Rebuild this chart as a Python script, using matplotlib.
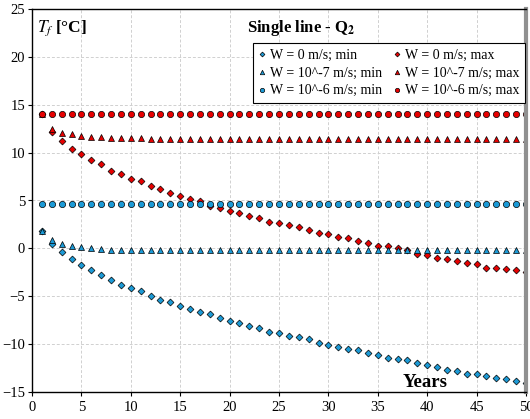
import matplotlib.pyplot as plt
import numpy as np

years = np.arange(1, 51)

# W = 0 m/s
w0_min = [1.8, 0.5, -0.4, -1.1, -1.7, -2.3, -2.8, -3.3, -3.8, -4.1,
          -4.5, -5.0, -5.4, -5.6, -6.0, -6.3, -6.6, -6.9, -7.3, -7.6,
          -7.8, -8.1, -8.35, -8.7, -8.85, -9.1, -9.3, -9.5, -9.9, -10.1,
          -10.3, -10.5, -10.6, -10.9, -11.1, -11.4, -11.6, -11.7, -12.0, -12.2,
          -12.4, -12.7, -12.8, -13.1, -13.1, -13.3, -13.5, -13.65, -13.85, -14.1]
w0_max = [14.0, 12.2, 11.25, 10.35, 9.85, 9.2, 8.8, 8.1, 7.8, 7.25,
          7.0, 6.5, 6.2, 5.8, 5.5, 5.15, 4.9, 4.45, 4.2, 3.95,
          3.65, 3.4, 3.15, 2.8, 2.6, 2.4, 2.2, 1.95, 1.6, 1.5,
          1.2, 1.05, 0.8, 0.6, 0.25, 0.2, 0.0, -0.2, -0.55, -0.7,
          -1.0, -1.15, -1.3, -1.5, -1.6, -2.0, -2.0, -2.2, -2.3, -2.5]

# W = 10^-7 m/s
w7_min = [1.8, 0.9, 0.5, 0.3, 0.1, 0.0, -0.1, -0.15, -0.15, -0.15,
          -0.15, -0.2, -0.2, -0.2, -0.2, -0.2, -0.2, -0.2, -0.2, -0.2,
          -0.2, -0.2, -0.2, -0.2, -0.2, -0.2, -0.2, -0.2, -0.2, -0.2,
          -0.2, -0.2, -0.2, -0.2, -0.2, -0.2, -0.2, -0.2, -0.2, -0.2,
          -0.2, -0.2, -0.2, -0.2, -0.2, -0.2, -0.2, -0.2, -0.2, -0.2]
w7_max = [14.0, 12.45, 12.1, 11.9, 11.75, 11.6, 11.6, 11.5, 11.5, 11.5,
          11.5, 11.45, 11.45, 11.4, 11.45, 11.45, 11.45, 11.45, 11.4, 11.45,
          11.45, 11.45, 11.45, 11.45, 11.45, 11.45, 11.45, 11.45, 11.45, 11.45,
          11.45, 11.45, 11.45, 11.45, 11.45, 11.45, 11.45, 11.45, 11.45, 11.45,
          11.45, 11.45, 11.45, 11.45, 11.45, 11.45, 11.45, 11.45, 11.45, 11.45]

# W = 10^-6 m/s
w6_min = [4.65] * 50
w6_max = [14.0] * 50

blue = '#1c9ad6'
red = '#e60000'

plt.rcParams['font.family'] = ['Liberation Serif', 'DejaVu Serif']
plt.rcParams['mathtext.fontset'] = 'stix'

fig = plt.figure(figsize=(5.3, 4.19), dpi=100)
ax = fig.add_axes([32 / 530, 27 / 419, 494 / 530, 383 / 419])

kw = dict(linestyle='none', markeredgecolor='black', markeredgewidth=0.5)
h0 = ax.plot(years, w0_min, marker='D', markersize=3.5, color=blue, label='W = 0 m/s; min', **kw)[0]
h1 = ax.plot(years, w0_max, marker='D', markersize=3.5, color=red, label='W = 0 m/s; max', **kw)[0]
h2 = ax.plot(years, w7_min, marker='^', markersize=4.6, color=blue, label='W = 10^-7 m/s; min', **kw)[0]
h3 = ax.plot(years, w7_max, marker='^', markersize=4.6, color=red, label='W = 10^-7 m/s; max', **kw)[0]
h4 = ax.plot(years, w6_min, marker='o', markersize=4.5, color=blue, label='W = 10^-6 m/s; min', **kw)[0]
h5 = ax.plot(years, w6_max, marker='o', markersize=4.5, color=red, label='W = 10^-6 m/s; max', **kw)[0]

ax.set_xlim(0, 50)
ax.set_ylim(-15, 25)
ax.set_xticks(np.arange(0, 51, 5))
ax.set_yticks(np.arange(-15, 26, 5))
ax.tick_params(labelsize=10.5, length=3, width=0.8, colors='black')
ax.tick_params(axis='y', pad=2)
ax.grid(True, color='#d0d0d0', linestyle=(0, (3, 2)), linewidth=0.7)
ax.set_axisbelow(True)

for s in ['left', 'bottom', 'top']:
    ax.spines[s].set_color('black')
    ax.spines[s].set_linewidth(1.0)
ax.spines['right'].set_color('#909090')
ax.spines['right'].set_linewidth(3)

leg = ax.legend(handles=[h0, h2, h4, h1, h3, h5], ncol=2, loc='upper right',
                bbox_to_anchor=(0.998, 0.911), borderaxespad=0, fontsize=10,
                frameon=True, fancybox=False, edgecolor='black', framealpha=1,
                handlelength=0.5, handletextpad=0.35, columnspacing=0.8,
                borderpad=0.4, labelspacing=0.35, markerscale=0.7)
leg.get_frame().set_linewidth(0.8)

ax.text(0.01, 0.95, r'$\boldsymbol{T_f}$ [°C]', transform=ax.transAxes,
        fontsize=12.5, fontweight='bold', va='center', ha='left')
ax.text(0.545, 0.95, r'Single line - Q$_\mathbf{2}$', transform=ax.transAxes,
        fontsize=12, fontweight='bold', va='center', ha='center')
ax.text(0.796, 0.025, 'Years', transform=ax.transAxes,
        fontsize=13.5, fontweight='bold', va='center', ha='center')

fig.savefig('out.png', dpi=100)
